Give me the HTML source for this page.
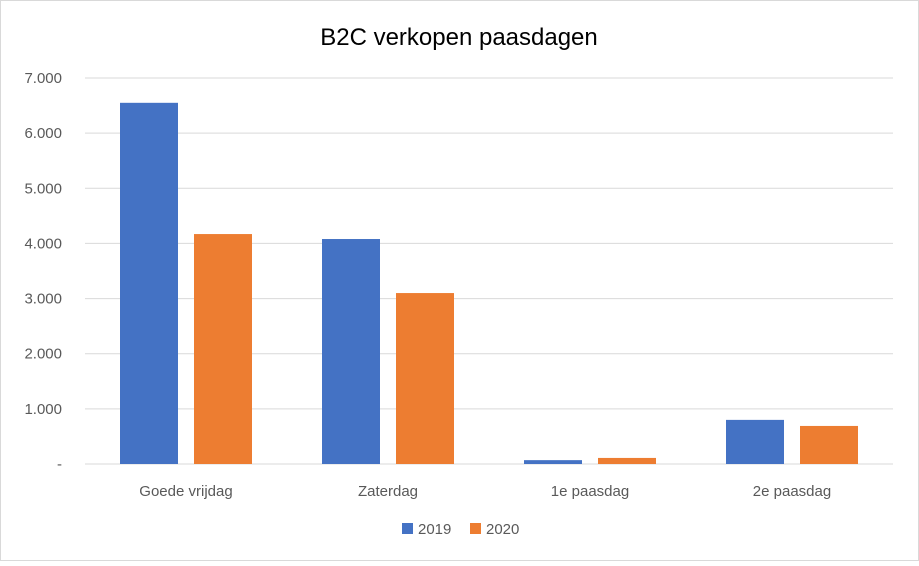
<!DOCTYPE html>
<html><head><meta charset="utf-8"><style>
body{margin:0;background:#fff;font-family:"Liberation Sans",sans-serif}
svg text{font-family:"Liberation Sans",sans-serif;fill:#595959}
</style></head><body>
<svg width="919" height="561">
<rect x="0.5" y="0.5" width="918" height="560" fill="#fff" stroke="#d9d9d9"/>
<text x="459" y="45" text-anchor="middle" font-size="24" style="fill:#000">B2C verkopen paasdagen</text>
<g id="grid"></g><g id="bars"></g><g id="labels"></g>
<g>
<rect x="402" y="523" width="11" height="11" fill="#4472c4"/>
<text x="418" y="534" font-size="15">2019</text>
<rect x="470" y="523" width="11" height="11" fill="#ed7d31"/>
<text x="486" y="534" font-size="15">2020</text>
</g>
</svg>
<script>
const categories=["Goede vrijdag","Zaterdag","1e paasdag","2e paasdag"];
const values2019=[6550,4080,70,800];
const values2020=[4170,3100,110,690];
const tickValues=[0,1000,2000,3000,4000,5000,6000,7000];
const tickLabels=["-","1.000","2.000","3.000","4.000","5.000","6.000","7.000"];
const NS="http://www.w3.org/2000/svg";
const x0=85,x1=893,y0=464,y1=78,vmax=7000;
const y=v=>y0-(v/vmax)*(y0-y1);
const bw=(x1-x0)/categories.length;
function mk(t,a,p){const e=document.createElementNS(NS,t);for(const k in a)e.setAttribute(k,a[k]);p.appendChild(e);return e;}
const g=document.getElementById('grid'),b=document.getElementById('bars'),l=document.getElementById('labels');
tickValues.forEach((v,i)=>{
 const ln=mk('line',{x1:x0,x2:x1,y1:y(v),y2:y(v),stroke:v===0?'#d9d9d9':'#d9d9d9','stroke-width':1},g);
 
 
 const t=mk('text',{x:62,y:y(v)+5,'text-anchor':'end','font-size':15},l);
 t.textContent=tickLabels[i];
 
 
});
categories.forEach((c,i)=>{
 const cx=x0+bw*(i+0.5);
 [[values2019,'#4472c4',-66],[values2020,'#ed7d31',8]].forEach(([arr,col,off],s)=>{
  const r=mk('rect',{x:cx+off,y:y(arr[i]),width:58,height:y0-y(arr[i]),fill:col},b);
  
  
 });
 const t=mk('text',{x:cx,y:496,'text-anchor':'middle','font-size':15},l);
 t.textContent=c;
 
 
});
</script>
</body></html>
